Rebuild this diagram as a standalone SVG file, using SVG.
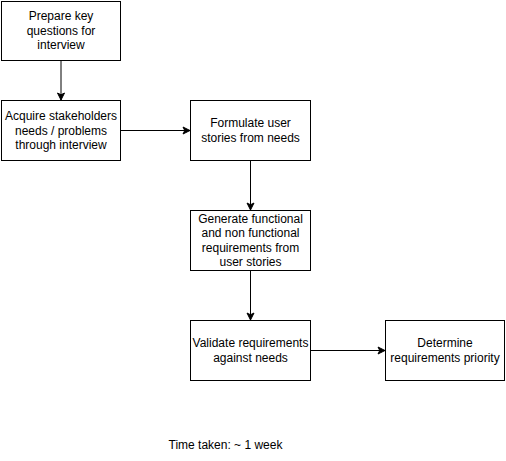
<svg xmlns="http://www.w3.org/2000/svg" width="506" height="461" viewBox="0 0 506 461">
<defs>
<marker id="arr" markerUnits="userSpaceOnUse" markerWidth="10" markerHeight="10" viewBox="-8 -5 10 10" refX="0" refY="0" orient="auto">
<path d="M0,0 L-7,-3.5 L-5.25,0 L-7,3.5 Z" fill="#000" stroke="#000" stroke-width="1"/>
</marker>
</defs>
<style>
.box{fill:#fff;stroke:#000;stroke-width:1}
.t{font-family:"Liberation Sans",Arial,sans-serif;font-size:12px;fill:#000;text-anchor:middle;dominant-baseline:central}
.c{fill:none;stroke:#000;stroke-width:1;marker-end:url(#arr)}
</style>
<rect width="506" height="461" fill="#fff"/>
<g id="connectors">
<path class="c" d="M61,60.5 L61,100"/>
<path class="c" d="M120.5,130.5 L190,130.5"/>
<path class="c" d="M250.5,160.5 L250.5,210"/>
<path class="c" d="M250.5,270.5 L250.5,320"/>
<path class="c" d="M310.5,350.5 L385,350.5"/>
</g>
<g id="n1">
<rect class="box" x="1.5" y="1.5" width="119" height="59"/>
<text class="t" x="61" y="16">Prepare key</text>
<text class="t" x="61" y="30.5">questions for</text>
<text class="t" x="61" y="45">interview</text>
</g>
<g id="n2">
<rect class="box" x="1.5" y="100.5" width="119" height="60"/>
<text class="t" x="61" y="116">Acquire stakeholders</text>
<text class="t" x="61" y="130.5">needs / problems</text>
<text class="t" x="61" y="145">through interview</text>
</g>
<g id="n3">
<rect class="box" x="190.5" y="100.5" width="120" height="60"/>
<text class="t" x="250.5" y="123">Formulate user</text>
<text class="t" x="250.5" y="137.5">stories from needs</text>
</g>
<g id="n4">
<rect class="box" x="190.5" y="210.5" width="120" height="60"/>
<text class="t" x="250.5" y="218.5">Generate functional</text>
<text class="t" x="250.5" y="233">and non functional</text>
<text class="t" x="250.5" y="247.5">requirements from</text>
<text class="t" x="250.5" y="262">user stories</text>
</g>
<g id="n5">
<rect class="box" x="190.5" y="320.5" width="120" height="60"/>
<text class="t" x="250.5" y="343">Validate requirements</text>
<text class="t" x="250.5" y="357.5">against needs</text>
</g>
<g id="n6">
<rect class="box" x="385.5" y="320.5" width="119" height="60"/>
<text class="t" x="445" y="343">Determine</text>
<text class="t" x="445" y="357.5">requirements priority</text>
</g>
<g id="note">
<text class="t" x="225.5" y="444.5">Time taken: ~ 1 week</text>
</g>
</svg>
